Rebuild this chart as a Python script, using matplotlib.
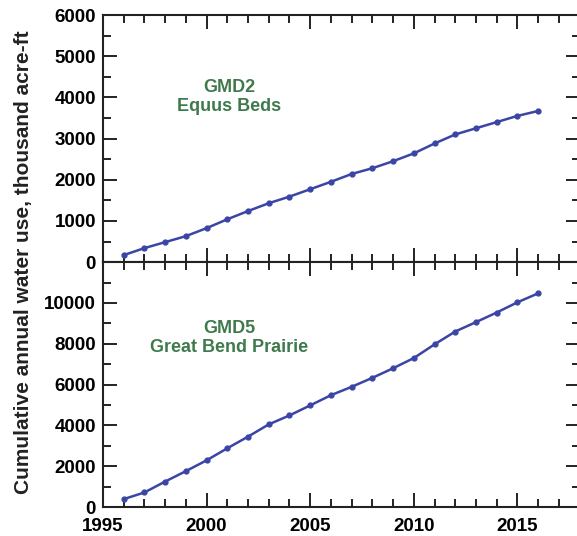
import matplotlib
matplotlib.use("Agg")
import matplotlib.pyplot as plt
from matplotlib.ticker import MultipleLocator

plt.rcParams["font.family"] = ["Liberation Sans", "DejaVu Sans"]
plt.rcParams["font.weight"] = "bold"

years = list(range(1996, 2017))
# cumulative annual water use, thousand acre-ft
gmd2 = [170, 340, 485, 630, 825, 1040, 1240, 1430, 1590, 1770, 1950,
        2140, 2280, 2450, 2640, 2880, 3100, 3250, 3400, 3550, 3670]
gmd5 = [390, 715, 1250, 1760, 2290, 2880, 3450, 4050, 4490, 4980, 5480,
        5890, 6330, 6800, 7300, 7970, 8600, 9060, 9530, 10030, 10470]

line_color = "#3b45a6"
text_color = "#3f7a4c"

fig = plt.figure(figsize=(5.77, 5.36), dpi=100)
ax1 = fig.add_axes([0.1785, 0.511, 0.826, 0.461])
ax2 = fig.add_axes([0.1785, 0.054, 0.826, 0.457], sharex=ax1)


def style(ax):
    for s in ax.spines.values():
        s.set_linewidth(1.5)
        s.set_color("#222222")
    ax.tick_params(which="both", direction="in", top=True, right=True,
                   width=1.4, color="#222222", labelsize=13.5, pad=5)
    ax.tick_params(which="major", length=10)
    ax.tick_params(which="minor", length=5.5)
    ax.tick_params(axis="x", pad=8)
    ax.xaxis.set_major_locator(MultipleLocator(5))
    ax.xaxis.set_minor_locator(MultipleLocator(1))


for ax in (ax1, ax2):
    style(ax)

ax1.plot(years, gmd2, color=line_color, lw=1.8, marker="o", ms=3.5)
ax1.set_ylim(0, 6000)
ax1.yaxis.set_major_locator(MultipleLocator(1000))
ax1.yaxis.set_minor_locator(MultipleLocator(500))
ax1.tick_params(axis="x", labelbottom=False)
ax1.text(2001.1, 4020, "GMD2\nEquus Beds", ha="center", va="center",
         color=text_color, fontsize=13, fontweight="bold", linespacing=1.15)

ax2.plot(years, gmd5, color=line_color, lw=1.8, marker="o", ms=3.5)
ax2.set_ylim(0, 12000)
ax2.set_yticks([0, 2000, 4000, 6000, 8000, 10000])
ax2.yaxis.set_minor_locator(MultipleLocator(1000))
ax2.text(2001.1, 8290, "GMD5\nGreat Bend Prairie", ha="center", va="center",
         color=text_color, fontsize=13, fontweight="bold", linespacing=1.15)

ax2.set_xlim(1995, 2018)
ax2.set_xticks([1995, 2000, 2005, 2010, 2015])

fig.text(0.04, 0.51, "Cumulative annual water use, thousand acre-ft",
         rotation=90, ha="center", va="center", fontsize=15,
         fontweight="bold", color="#222222")

fig.savefig("out.png", dpi=100)
